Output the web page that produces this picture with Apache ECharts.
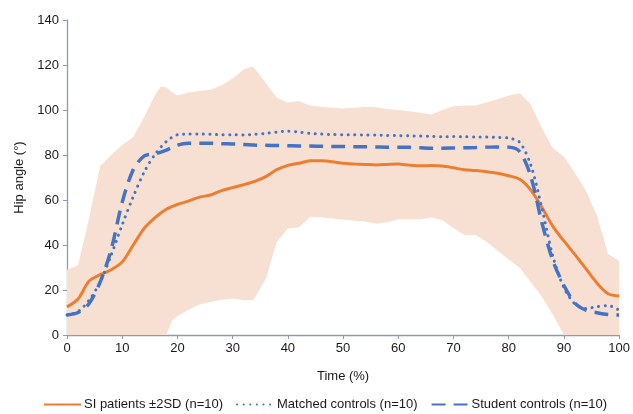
<!DOCTYPE html>
<html>
<head>
<meta charset="utf-8">
<script src="https://cdn.jsdelivr.net/npm/echarts@6/dist/echarts.min.js"></script>
<style>
html,body{margin:0;padding:0;background:#fff;}
#chart{width:633px;height:414px;}
</style>
</head>
<body>
<div id="chart"></div>
<script>
// Time grid (%)
const timeGrid = [0,2,4,6,8,10,12,14,16,18,20,22,24,26,28,30,32,34,36,38,40,42,44,46,48,50,52,54,56,58,60,62,64,66,68,70,72,74,76,78,80,82,84,86,88,90,92,94,96,98,100];

// Band (SI patients ±2SD) on its own time points
const bandTime  = [0,2,4,6,8,10,12,14,16,17,18,19,20,22,24,26,28,30,32,33.5,34,36,38,40,42,44,46,48,50,52,54,56,58,60,62,64,66,68,70,72,74,76,78,80,82,84,86,88,90,92,94,96,98,100];
const bandUpper = [29,31,52,75,80,84.5,88,97,107,110.5,110,108,106.5,107.8,108.5,109,111,114,118,119.3,118.5,112,105.5,103.3,104,102,101.5,101,100.7,101,101.3,101.2,100.5,100,99.5,98.8,98,100,101.7,102,102,103.5,104.8,106.5,107.5,102.5,92,83,79.3,72,64,53,36,33];
const bandLower = [0,0,0,0,0,0,0,0,0,0,0,6.5,8.5,11.2,13.6,14.7,15.7,16.2,15.5,15.3,16.5,25,41.5,47.3,47.8,52.4,52.3,51.8,51.3,50.8,50.4,49.5,50.1,51.5,51.4,51.5,52.2,51,47.5,44.4,44.5,41.5,37.5,33.6,29.9,23.5,17,9,0,0,0,0,0,0];

// Mean curves
const siPatients = [12.5,16,24,26.8,29,32.5,40,47.5,52.3,55.9,58,59.5,61.3,62.2,64.2,65.5,66.8,68.3,70.4,73.5,75.4,76.3,77.5,77.4,77,76.3,76,75.8,75.6,75.8,76,75.5,75.2,75.3,75.1,74.3,73.4,73.1,72.6,71.9,70.8,69.2,64.4,56.8,48.3,41.8,35.7,29.4,23,18.3,17.3];
const matchedControls = [8.9,10.4,15.5,23.5,35.5,49,61.5,72.5,80.5,86,89,89.3,89.3,89.2,89,89,88.9,89.2,89.6,90.2,90.6,90.2,89.6,89.3,89.1,89,89,88.9,88.9,88.7,88.6,88.5,88.4,88.3,88.1,88.2,88.1,88,88,87.8,87.5,85.6,75.5,56.5,35,21,13.8,11.8,12.6,13.1,11];
const studentControls = [8.9,10,14,23.5,38,59,73.5,79.6,80.6,82.2,84.4,85.2,85.2,85.2,85,84.9,84.7,84.4,84.3,84.2,84.1,84,84,83.9,83.8,83.8,83.7,83.7,83.6,83.5,83.5,83.4,83.2,83,83,83.1,83.2,83.3,83.5,83.6,83.5,81.5,70.5,50,33,22,14.2,11,9.9,9.1,8.9];

const seriesNames = ['SI patients \u00b12SD (n=10)','Matched controls (n=10)','Student controls (n=10)'];
const yTicks = {min:0, max:140, interval:20};
const xTicks = {min:0, max:100, interval:10};

const pair = (t, v) => t.map((x, i) => [x, v[i]]);

const chart = echarts.init(document.getElementById('chart'), null, {renderer:'canvas'});
const axisColor = '#8c9bb3';
const txt = '#1a1a1a';
const font = 'Liberation Sans, Arial, Helvetica, sans-serif';

function renderBand(params, api) {
  const pts = [];
  for (let i = 0; i < bandTime.length; i++) pts.push(api.coord([bandTime[i], bandUpper[i]]));
  for (let i = bandTime.length - 1; i >= 0; i--) pts.push(api.coord([bandTime[i], bandLower[i]]));
  return {
    type:'polygon',
    shape:{points:pts},
    style:{fill:'#f7e0d2', stroke:'none'},
    silent:true
  };
}

chart.setOption({
  animation:false,
  backgroundColor:'#ffffff',
  textStyle:{fontFamily:font},
  grid:{left:67, right:11, top:20, bottom:79, containLabel:false},
  legend:{
    top:393, left:38,
    itemWidth:37, itemHeight:10, itemGap:13,
    itemStyle:{opacity:0},
    textStyle:{fontSize:13, color:txt, fontFamily:font, padding:[0,0,0,-2]},
    data:seriesNames
  },
  xAxis:{
    type:'value', min:xTicks.min, max:xTicks.max, interval:xTicks.interval,
    name:'Time (%)', nameLocation:'middle', nameGap:35,
    nameTextStyle:{fontSize:13, color:txt},
    axisLine:{show:true, lineStyle:{color:axisColor, width:1.3}},
    axisTick:{show:true, length:4, lineStyle:{color:axisColor}},
    axisLabel:{fontSize:13, color:txt, margin:7},
    splitLine:{show:false}
  },
  yAxis:{
    type:'value', min:yTicks.min, max:yTicks.max, interval:yTicks.interval,
    name:'Hip angle (\u00b0)', nameLocation:'middle', nameGap:39, nameRotate:90,
    nameTextStyle:{fontSize:13, color:txt},
    axisLine:{show:true, lineStyle:{color:axisColor, width:1.3}},
    axisTick:{show:true, length:4, lineStyle:{color:axisColor}},
    axisLabel:{fontSize:13, color:txt, margin:8},
    splitLine:{show:false}
  },
  series:[
    {
      name:'band', type:'custom', renderItem:renderBand,
      data:[[0, 0]], silent:true, z:1, clip:true
    },
    {
      name:seriesNames[0], type:'line', symbol:'none', smooth:0.3,
      data:pair(timeGrid, siPatients),
      lineStyle:{color:'#ed7d31', width:3},
      itemStyle:{color:'#ed7d31'}, z:3
    },
    {
      name:seriesNames[1], type:'line', symbol:'none', smooth:0.3,
      data:pair(timeGrid, matchedControls),
      lineStyle:{color:'#4472c4', width:3, type:[0.1,6.5], cap:'round'},
      itemStyle:{color:'#4472c4'}, z:4
    },
    {
      name:seriesNames[2], type:'line', symbol:'none', smooth:0.3,
      data:pair(timeGrid, studentControls),
      lineStyle:{color:'#4472c4', width:3.5, type:[14,8]},
      itemStyle:{color:'#4472c4'}, z:4
    }
  ]
});
</script>
</body>
</html>
